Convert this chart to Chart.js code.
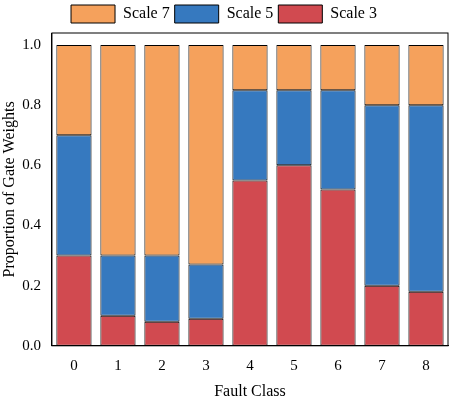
<!DOCTYPE html>
<html><head><script src="https://cdn.jsdelivr.net/npm/chart.js"></script>
<style>body{margin:0;background:#fff}#w{width:454px;height:405px}</style></head>
<body><div id="w"><canvas id="c"></canvas></div>
<script>
const categories=['0','1','2','3','4','5','6','7','8'];
const scale3=[0.30,0.10,0.08,0.09,0.55,0.60,0.52,0.20,0.18];
const scale5=[0.40,0.20,0.22,0.18,0.30,0.25,0.33,0.60,0.62];
const scale7=[0.30,0.70,0.70,0.73,0.15,0.15,0.15,0.20,0.20];
const yTicks=[0,0.2,0.4,0.6,0.8,1.0];
const F='"Liberation Serif", "Times New Roman", serif';
const frame={id:'frame',afterDraw(ch){const a=ch.chartArea,x=ch.ctx;x.save();x.strokeStyle='#000';x.lineWidth=1;x.strokeRect(a.left,a.top,a.right-a.left,a.bottom-a.top);x.restore();}};
new Chart(document.getElementById('c'),{type:'bar',
data:{labels:categories,datasets:[
{label:'Scale 3',data:scale3,backgroundColor:'#D14A50'},
{label:'Scale 5',data:scale5,backgroundColor:'#3679BF'},
{label:'Scale 7',data:scale7,backgroundColor:'#F5A15C'}].map(d=>Object.assign(d,{borderColor:'#000',borderWidth:1,borderSkipped:false,barPercentage:0.8,categoryPercentage:1}))},
options:{responsive:true,maintainAspectRatio:false,animation:false,
layout:{padding:{right:6,top:0,bottom:0}},
plugins:{legend:{reverse:true,labels:{font:{family:F,size:16},color:'#000',boxWidth:44,boxHeight:18,padding:5}},tooltip:{enabled:false}},
scales:{x:{stacked:true,grid:{display:false},border:{color:'#000'},ticks:{color:'#000',font:{family:F,size:15}},title:{display:true,text:'Fault Class',color:'#000',font:{family:F,size:16},padding:{top:4}}},
y:{stacked:true,min:0,max:1.04,afterBuildTicks:s=>{s.ticks=yTicks.map(v=>({value:v}));},grid:{display:false,drawTicks:true},border:{color:'#000'},
ticks:{color:'#000',font:{family:F,size:15},callback:v=>v.toFixed(1)},title:{display:true,text:'Proportion of Gate Weights',color:'#000',font:{family:F,size:16},padding:0}}}},
plugins:[frame]});
</script></body></html>
